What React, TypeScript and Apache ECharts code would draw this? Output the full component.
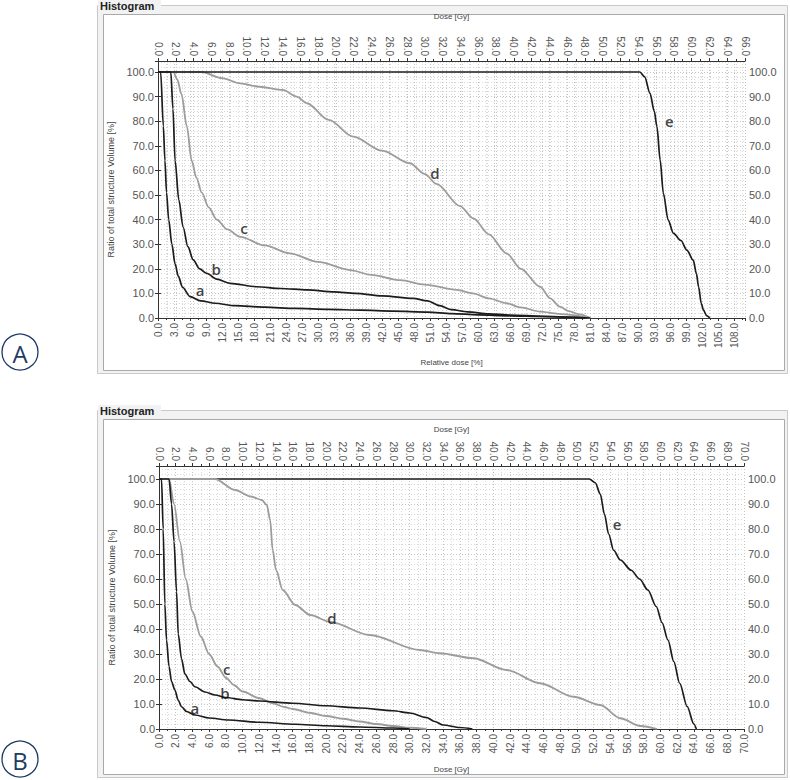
import React, { useEffect, useRef } from 'react';
import * as echarts from 'echarts';

// ---------- Panel A (x = relative dose [%], y = volume [%]) ----------
const curveAa = [[0,100],[0.5,100],[1.0,78],[1.3,64],[1.6,51],[2.0,40],[2.6,30],[3.2,22],[3.8,17],[4.6,12.5],[6,8.7],[8,7],[10.7,6],[14.4,5],[20,4.4],[25.7,3.9],[32,3.5],[38,3.2],[44,2.8],[50.6,2.4],[55,1.8],[60,1.3],[66,0.9],[72,0.6],[78,0.3],[81,0]];
const curveAb = [[0,100],[2.4,100],[2.8,85],[3.2,64],[3.9,48],[4.7,37],[5.6,29],[6.6,23.6],[7.8,20],[9.1,18.2],[11,15.8],[13.5,14.1],[18.5,12.7],[23,12],[27.9,11.4],[33,10.6],[37,10],[42,9],[47.8,8],[50.5,7],[52.8,5],[55,3.4],[58,2.5],[62,1.7],[66,1.2],[72,0.7],[78,0.3],[80,0]];
const curveAc = [[0,100],[2.9,100],[3.6,97],[4.4,91],[5.4,78],[6.3,64],[7.2,57],[8.2,51],[9.5,45],[11,40],[13,36],[15.4,33],[20,29.5],[24.7,26.3],[30,22.8],[36,19.5],[40,17.5],[45.4,15.4],[50,13.6],[56,11.4],[59,10],[62,8],[65.3,6],[68,4.3],[71.6,2.6],[75,1.7],[77.8,1.2],[80,0.4],[81,0]];
const curveAd = [[0,100],[8.2,100],[12,97.5],[15.4,95.4],[19,94],[23.4,92.7],[26,90],[27.9,87.3],[32,80.5],[36.6,73.7],[42,68],[47.2,62.9],[50,58.5],[52.2,54.5],[56.6,45.5],[59.1,40.5],[62,34],[65.3,26.3],[68,20],[71.6,12.7],[73.5,8],[75.3,4.6],[77,2.8],[79,1.5],[81,0]];
const curveAe = [[0,100],[90.3,100],[91.2,98],[92.2,91.3],[93,84],[93.5,77.8],[94.1,64.2],[94.7,50.7],[95.6,39.8],[96.6,34.4],[98,31.5],[99.1,27.6],[100.3,23.5],[100.9,18],[101.3,12.7],[101.8,6],[102.2,3.3],[102.8,1],[103.4,0]];
const labelsA = [[7.9,11.4,'a'],[10.9,19.9,'b'],[16.1,36.6,'c'],[51.9,58.9,'d'],[95.8,80.1,'e']];

// ---------- Panel B (x = dose [Gy], y = volume [%]) ----------
const curveBa = [[0,100],[0.3,100],[0.5,80],[0.7,50],[0.9,35.6],[1.2,25],[1.5,19],[1.9,15.6],[2.3,11.5],[2.7,8.9],[3.3,7],[4.3,5.6],[6,4.4],[8.3,3.6],[12,2.7],[16.3,1.9],[20,1.3],[24,0.8],[28,0.4],[30,0]];
const curveBb = [[0,100],[1.2,100],[1.5,90],[1.8,75],[2.1,55],[2.3,38],[2.7,28],[3.1,22],[3.7,19],[4.3,16.9],[5.5,14.8],[6.7,13.6],[8,12.6],[10,11.7],[12,11.2],[16,10.3],[20,9.3],[24,8.4],[28,7.3],[30,6.4],[32,4.6],[33,3],[34,1.6],[36,0.6],[37.5,0]];
const curveBc = [[0,100],[1.2,100],[1.8,90],[2.5,75],[3.2,60],[4,47],[5,37],[6,30],[7,25],[8,20.5],[9,17.5],[10,15],[12,12.3],[13.5,10.4],[15,8.8],[16,8],[18,6.5],[20,5.2],[22,4.1],[24,3],[26,2],[28,1.2],[30,0.5],[32,0]];
const curveBd = [[0,100],[6.7,100],[9.1,95.6],[11,93],[12.3,91.6],[12.9,89.6],[13.3,83.6],[13.6,71.6],[14.0,63.6],[14.8,55.6],[16.3,49.6],[18.1,45.6],[20.5,42.8],[25.2,37.6],[31.2,31.6],[33.6,30.3],[37.6,28.3],[41.6,23.6],[45.6,18.3],[49.6,12.9],[52.8,9.6],[55.2,4.3],[57.6,1.2],[59.6,0]];
const curveBe = [[0,100],[51.5,100],[52.2,98.5],[52.8,94],[53.3,86],[53.8,78],[54.4,71.5],[55.2,67.6],[56.5,63.5],[57.5,60],[58.5,55.6],[59.5,49],[60.2,42.5],[60.9,35.6],[61.6,27],[62.3,18.3],[63.2,9],[64,2],[64.3,0]];
const labelsB = [[4.3,8.4,'a'],[7.9,14.4,'b'],[8.1,24,'c'],[20.7,44.4,'d'],[54.8,82,'e']];

const DARK = '#1c1c1c';
const GREY = '#9c9c9c';
const FONT = 'Liberation Sans';

function fmt1(step: number) {
  return (v: number) => (Math.abs(v / step - Math.round(v / step)) < 1e-6 ? v.toFixed(1) : '');
}

const dotted = { color: '#c4c4c4', type: [1, 2] as any, width: 1 };
const dottedMinor = { color: '#d8d8d8', type: [1, 2] as any, width: 1 };

function xAxisDef(gridIndex: number, position: 'top' | 'bottom', max: number, step: number, name: string, nameGap: number, split: boolean) {
  return {
    type: 'value', gridIndex, position, min: 0, max, interval: step,
    name, nameLocation: 'middle', nameGap,
    nameTextStyle: { fontSize: 8, color: '#444', fontFamily: FONT },
    axisLine: { show: true, onZero: false, lineStyle: { color: '#333', width: 1 } },
    axisTick: { show: true, length: 3, lineStyle: { color: '#333' } },
    minorTick: { show: true, splitNumber: 2, length: 2, lineStyle: { color: '#333' } },
    axisLabel: { rotate: 90, fontSize: 10, color: '#555', fontFamily: FONT, margin: 5, formatter: fmt1(step), showMaxLabel: true },
    splitLine: { show: split, lineStyle: dotted },
    minorSplitLine: { show: split, lineStyle: dottedMinor },
  };
}

function yAxisDef(gridIndex: number, position: 'left' | 'right', max: number, name: string) {
  return {
    type: 'value', gridIndex, position, min: 0, max, interval: 10,
    name, nameLocation: 'middle', nameGap: 42,
    nameTextStyle: { fontSize: 9, color: '#444', fontFamily: FONT },
    axisLine: { show: true, lineStyle: { color: '#333', width: 1 } },
    axisTick: { show: true, length: 3, lineStyle: { color: '#333' } },
    axisLabel: { fontSize: 11, color: '#555', fontFamily: FONT, margin: 4, formatter: fmt1(10) },
    splitLine: { show: position === 'left', lineStyle: dotted },
    minorTick: { show: false, splitNumber: 5 },
    minorSplitLine: { show: position === 'left', lineStyle: dottedMinor },
  };
}

function lineSeries(data: number[][], color: string, xi: number, yi: number, width = 1.7) {
  return {
    type: 'line', data, xAxisIndex: xi, yAxisIndex: yi, showSymbol: false, symbol: 'none',
    smooth: 0.3, smoothMonotone: 'x', silent: true,
    lineStyle: { color, width },
  };
}

function labelSeries(data: any[], xi: number, yi: number) {
  return {
    type: 'scatter', data, xAxisIndex: xi, yAxisIndex: yi, symbolSize: 1, silent: true,
    itemStyle: { color: 'rgba(0,0,0,0)' },
    label: {
      show: true, position: 'inside', formatter: (p: any) => p.data[2],
      fontSize: 15, color: '#111', fontFamily: 'Open Sans', fontWeight: 600,
      textBorderWidth: 0, textBorderColor: 'transparent',
    },
    z: 5,
  };
}

function groupBox(top: number, height: number) {
  return [
    { type: 'rect', z: -10, shape: { x: 97.5, y: top + 0.5, width: 690, height }, style: { fill: '#f2f2f2', stroke: '#c9c9c9', lineWidth: 1 } },
    { type: 'rect', z: -9, shape: { x: 103.5, y: top + 9.5, width: 681, height: height - 12 }, style: { fill: '#ffffff', stroke: '#a9a9a9', lineWidth: 1 } },
    { type: 'rect', z: -8, shape: { x: 98, y: top - 5, width: 63, height: 11 }, style: { fill: '#f2f2f2' } },
    { type: 'text', z: 10, x: 100, y: top - 5, style: { text: 'Histogram', font: `bold 11px "${FONT}"`, fill: '#222' } },
  ];
}

function circled(letter: string, cx: number, cy: number) {
  return [
    { type: 'circle', z: 10, shape: { cx, cy, r: 18 }, style: { fill: 'none', stroke: '#1f3b63', lineWidth: 1.3 } },
    { type: 'text', z: 10, x: cx, y: cy + 1, style: { text: letter, font: '24px "Open Sans"', fill: '#1f3b63', align: 'center', verticalAlign: 'middle' } },
  ];
}

export default function App() {
  const ref = useRef<HTMLDivElement>(null);
  useEffect(() => {
    document.body.style.margin = '0';
    const chart = echarts.init(ref.current!, null, { renderer: 'svg' });
    const yLabel = 'Ratio of total structure Volume [%]';
    chart.setOption({
      animation: false,
      backgroundColor: '#ffffff',
      grid: [
        { left: 158, top: 61, right: 45, bottom: 462, containLabel: false, show: false },
        { left: 159, top: 466, right: 46, bottom: 51, containLabel: false, show: false },
      ],
      xAxis: [
        xAxisDef(0, 'bottom', 110, 3, 'Relative dose [%]', 40, true),
        xAxisDef(0, 'top', 66, 2, 'Dose [Gy]', 41, true),
        xAxisDef(1, 'bottom', 70, 2, 'Dose [Gy]', 36, true),
        xAxisDef(1, 'top', 70, 2, 'Dose [Gy]', 33, false),
      ],
      yAxis: [
        yAxisDef(0, 'left', 104.47, yLabel),
        yAxisDef(0, 'right', 104.47, ''),
        yAxisDef(1, 'left', 105.2, yLabel),
        yAxisDef(1, 'right', 105.2, ''),
      ],
      series: [
        lineSeries(curveAd, GREY, 0, 0, 1.8),
        lineSeries(curveAc, GREY, 0, 0, 1.8),
        lineSeries(curveAe, DARK, 0, 0),
        lineSeries(curveAb, DARK, 0, 0),
        lineSeries(curveAa, DARK, 0, 0),
        labelSeries(labelsA, 0, 0),
        lineSeries(curveBc, GREY, 2, 2, 1.8),
        lineSeries(curveBe, DARK, 2, 2),
        lineSeries(curveBd, GREY, 2, 2, 1.8),
        lineSeries(curveBb, DARK, 2, 2),
        lineSeries(curveBa, DARK, 2, 2),
        labelSeries(labelsB, 2, 2),
      ],
      graphic: [
        ...groupBox(5, 368),
        ...groupBox(410, 367),
        ...circled('A', 20, 352),
        ...circled('B', 20, 759),
      ],
    });
    return () => chart.dispose();
  }, []);
  return <div ref={ref} style={{ width: 790, height: 780 }} />;
}
